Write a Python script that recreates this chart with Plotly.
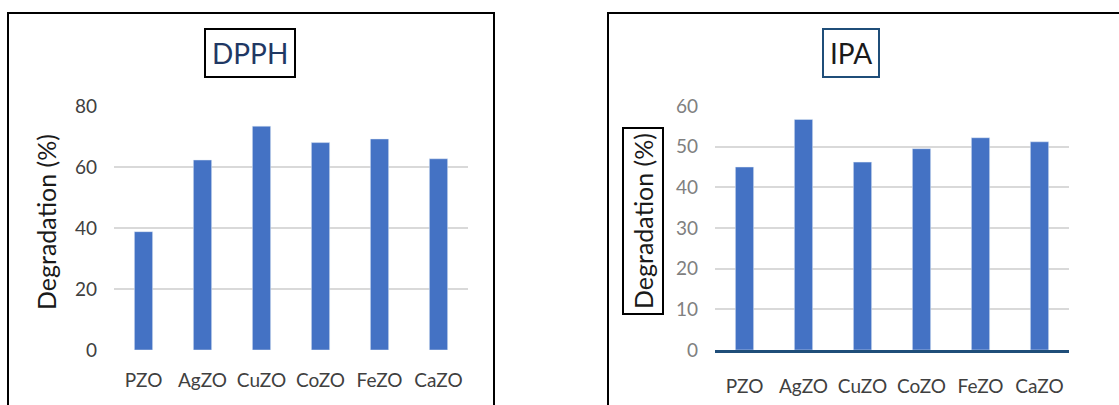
import plotly.graph_objects as go

W, H = 1119, 405

categories = ["PZO", "AgZO", "CuZO", "CoZO", "FeZO", "CaZO"]
dpph_degradation = [38.8, 62.3, 73.4, 68.0, 69.2, 62.7]
ipa_degradation = [45.0, 56.7, 46.2, 49.5, 52.2, 51.2]

dpph_ticks = [0, 20, 40, 60, 80]
ipa_ticks = [0, 10, 20, 30, 40, 50, 60]

BAR = "#4472C4"
GRID = "#D9D9D9"
FONT = "Lato"


def px(x):
    return x / W


def py(y):
    return 1 - y / H


fig = go.Figure()
fig.add_trace(go.Bar(x=categories, y=dpph_degradation, marker_color=BAR,
                     width=0.31, xaxis="x", yaxis="y", showlegend=False))
fig.add_trace(go.Bar(x=categories, y=ipa_degradation, marker_color=BAR,
                     width=0.31, xaxis="x2", yaxis="y2", showlegend=False))

y_dom = [py(350), py(106)]
xaxis_common = dict(showgrid=False, zeroline=False, ticks="", automargin=False,
                    tickfont=dict(family=FONT, size=19, color="#404040"),
                    ticklabelstandoff=17, fixedrange=True)
yaxis_common = dict(showgrid=True, gridcolor=GRID, gridwidth=1.5,
                    zeroline=False, automargin=False, showline=False,
                    ticklabelstandoff=16, fixedrange=True)

fig.update_layout(
    width=W, height=H,
    margin=dict(l=0, r=0, t=0, b=0, autoexpand=False),
    paper_bgcolor="white", plot_bgcolor="white",
    xaxis=dict(domain=[px(114), px(468)], anchor="y", **xaxis_common,
               showline=False),
    yaxis=dict(domain=y_dom, anchor="x", range=[0, 80], tickvals=dpph_ticks,
               tickfont=dict(family=FONT, size=19, color="#404040"),
               **yaxis_common),
    xaxis2=dict(domain=[px(715), px(1069)], anchor="y2", **xaxis_common,
                showline=True, linecolor="#1F4E79", linewidth=2.5),
    yaxis2=dict(domain=y_dom, anchor="x2", range=[0, 60], tickvals=ipa_ticks,
                tickfont=dict(family=FONT, size=19, color="#808080"),
                **yaxis_common),
)

# Panel frames (open at the page edges)
left_frame = (f"M {px(8)} 0 L {px(8)} {py(13)} "
              f"L {px(494)} {py(13)} L {px(494)} 0")
right_frame = f"M {px(608)} 0 L {px(608)} {py(13)} L 1 {py(13)}"
for path in (left_frame, right_frame):
    fig.add_shape(type="path", path=path, xref="paper", yref="paper",
                  line=dict(color="black", width=2))

# Boxed titles
fig.add_annotation(text="DPPH", xref="paper", yref="paper",
                   x=px(250), y=py(53), xanchor="center", yanchor="middle",
                   showarrow=False,
                   font=dict(family=FONT, size=28, color="#1F3864"),
                   bordercolor="black", borderwidth=2, borderpad=6)
fig.add_annotation(text="IPA", xref="paper", yref="paper",
                   x=px(851), y=py(53), xanchor="center", yanchor="middle",
                   showarrow=False,
                   font=dict(family=FONT, size=28, color="#1A1A1A"),
                   bordercolor="#1F4E79", borderwidth=2, borderpad=6)

# Y-axis titles
fig.add_annotation(text="Degradation (%)", xref="paper", yref="paper",
                   x=px(46), y=py(222), xanchor="center", yanchor="middle",
                   showarrow=False, textangle=-90,
                   font=dict(family=FONT, size=25, color="#1A1A1A"))
fig.add_annotation(text="Degradation (%)", xref="paper", yref="paper",
                   x=px(643), y=py(221), xanchor="center", yanchor="middle",
                   showarrow=False, textangle=-90,
                   font=dict(family=FONT, size=25, color="#1A1A1A"),
                   bordercolor="black", borderwidth=2, borderpad=4)

fig.write_html(
    "out.html",
    post_script="document.body.style.margin='0';document.body.style.overflow='hidden';",
)
